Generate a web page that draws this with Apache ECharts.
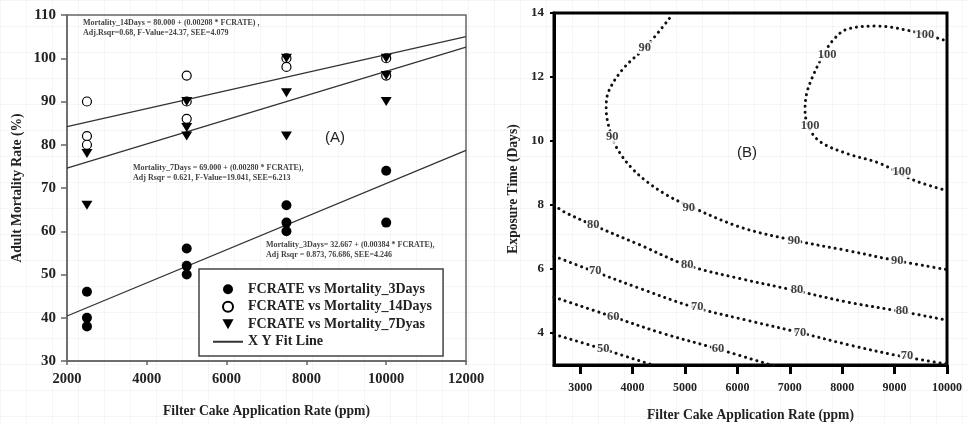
<!DOCTYPE html>
<html>
<head>
<meta charset="utf-8">
<script src="https://cdn.jsdelivr.net/npm/echarts@6/dist/echarts.min.js"></script>
<style>
    html, body { margin: 0; width: 100%; height: 100%; background: #fff; }
    body {
        background-image:
            linear-gradient(rgba(170, 215, 215, 0.18) 1px, transparent 1px),
            linear-gradient(90deg, rgba(170, 215, 215, 0.18) 1px, transparent 1px);
        background-size: 26px 26px;
    }
    #main { width: 968px; height: 424px; }
</style>
</head>
<body>
<div id="main"></div>
<script>
// ---- panel A: mortality vs filter cake rate ----
var mort3Days = [
    [2500, 46], [2500, 40], [2500, 38],
    [5000, 56], [5000, 52], [5000, 50],
    [7500, 66], [7500, 62], [7500, 60],
    [10000, 74], [10000, 62]
];
var mort14Days = [
    [2500, 90], [2500, 82], [2500, 80],
    [5000, 96], [5000, 90], [5000, 86],
    [7500, 100], [7500, 98],
    [10000, 100], [10000, 96]
];
var mort7Days = [
    [2500, 78], [2500, 66],
    [5000, 90], [5000, 84], [5000, 82],
    [7500, 100], [7500, 92], [7500, 82],
    [10000, 100], [10000, 96], [10000, 90]
];
// fit line end points
var fit3Days = [[2000, 40.4], [12000, 78.7]];
var fit14Days = [[2000, 84.2], [12000, 105.0]];
var fit7Days = [[2000, 74.6], [12000, 102.6]];

var eqText14 = 'Mortality_14Days = 80.000 + (0.00208 * FCRATE) ,\nAdj.Rsqr=0.68, F-Value=24.37, SEE=4.079';
var eqText7 = 'Mortality_7Days = 69.000 + (0.00280 * FCRATE),\nAdj Rsqr = 0.621, F-Value=19.041, SEE=6.213';
var eqText3 = 'Mortality_3Days= 32.667 + (0.00384 * FCRATE),\nAdj Rsqr = 0.873, 76.686, SEE=4.246';

// ---- panel B: contour lines (rate, days) ----
var contour100 = [[9929, 13.16], [9357, 13.42], [8659, 13.59], [8086, 13.49], [7831, 13.16], [7640, 12.69],
    [7449, 12.06], [7323, 11.49], [7291, 10.97], [7354, 10.45], [7577, 9.98], [8086, 9.61],
    [8721, 9.3], [9357, 8.78], [10000, 8.45]];
var contour90 = [[4703, 13.83], [4259, 12.95], [3826, 12.27], [3540, 11.54], [3496, 11.0], [3604, 10.13],
    [3763, 9.61], [3986, 9.15], [4272, 8.73], [4653, 8.31], [5035, 8.0], [6051, 7.31],
    [7062, 6.9], [8086, 6.58], [9007, 6.27], [10000, 5.98]];
var contour80 = [[2500, 8.0], [2700, 7.78], [3248, 7.37], [4144, 6.75], [5035, 6.12], [6051, 5.7],
    [7100, 5.33], [8086, 4.97], [9102, 4.68], [10000, 4.4]];
var contour70 = [[2500, 6.4], [3254, 5.93], [4144, 5.39], [5161, 4.81], [6179, 4.4], [7196, 4.01],
    [8149, 3.62], [9102, 3.28], [10000, 3.03]];
var contour60 = [[2500, 5.12], [3635, 4.5], [4589, 3.98], [5607, 3.51], [6700, 2.97]];
var contour50 = [[2500, 3.96], [3444, 3.49], [4420, 2.98]];
var contourLabels = [
    [4230, 12.92, 90], [3610, 10.12, 90], [5070, 7.92, 90], [7080, 6.88, 90], [9050, 6.26, 90],
    [7711, 12.69, 100], [7387, 10.47, 100], [9580, 13.31, 100], [9141, 9.05, 100],
    [3248, 7.37, 80], [5041, 6.12, 80], [7139, 5.34, 80], [9141, 4.69, 80],
    [3286, 5.93, 70], [5232, 4.81, 70], [7196, 4.02, 70], [9237, 3.3, 70],
    [3630, 4.52, 60], [5632, 3.52, 60],
    [3439, 3.5, 50]
];
var rateTicks = [3000, 4000, 5000, 6000, 7000, 8000, 9000, 10000];
var dayTicks = [4, 6, 8, 10, 12, 14];

var serif = 'Liberation Serif';
var nameStyle = { fontFamily: serif, fontWeight: 'bold', fontSize: 13.6, color: '#222' };
var triangleDown = 'path://M0,0L10,0L5,9Z';

function plain(v) { return String(v); }

function tickLabel(size, margin, extra) {
    return Object.assign({
        fontFamily: serif, fontWeight: 'bold', fontSize: size, color: '#222',
        margin: margin, formatter: plain
    }, extra || {});
}

function fitSeries(data) {
    return {
        name: 'X Y Fit Line', type: 'line', xAxisIndex: 0, yAxisIndex: 0,
        data: data, symbol: 'none', silent: true,
        itemStyle: { color: 'rgba(0,0,0,0)' },
        lineStyle: { color: '#333', width: 1.3 }, z: 1
    };
}

function contourSeries(data) {
    return {
        type: 'line', xAxisIndex: 1, yAxisIndex: 1, data: data,
        smooth: 0.35, symbol: 'none', silent: true, clip: true,
        lineStyle: { color: '#111', width: 3, type: [0.1, 5.8], cap: 'round' }
    };
}

function eqGraphic(left, top, text) {
    return {
        type: 'text', left: left, top: top,
        style: { text: text, font: 'bold 8px "Liberation Serif"', fill: '#444', lineHeight: 10 }
    };
}

var chart = echarts.init(document.getElementById('main'), null, { renderer: 'canvas' });
chart.setOption({
    backgroundColor: 'transparent',
    animation: false,
    grid: [
        {
            left: 67, top: 15, width: 399, height: 346, outerBoundsMode: 'none',
            show: true, borderColor: '#666', borderWidth: 1.5
        },
        {
            left: 554, top: 13, width: 393, height: 352, outerBoundsMode: 'none',
            show: true, borderColor: '#000', borderWidth: 3
        }
    ],
    xAxis: [
        {
            gridIndex: 0, type: 'value', min: 2000, max: 12000, interval: 2000,
            name: 'Filter Cake Application Rate (ppm)', nameLocation: 'middle', nameGap: 43,
            nameTextStyle: nameStyle,
            axisLine: { lineStyle: { color: '#666', width: 1.5 } },
            axisTick: { length: 4, lineStyle: { color: '#666', width: 1.5 } },
            axisLabel: tickLabel(14.5, 11),
            splitLine: { show: false }
        },
        {
            gridIndex: 1, type: 'value', min: 2500, max: 10000,
            name: 'Filter Cake Application Rate (ppm)', nameLocation: 'middle', nameGap: 43,
            nameTextStyle: nameStyle,
            axisLine: { lineStyle: { color: '#000', width: 3 } },
            axisTick: { customValues: rateTicks, length: 9, lineStyle: { color: '#000', width: 3 } },
            axisLabel: tickLabel(12, 17, { customValues: rateTicks }),
            splitLine: { show: false }
        }
    ],
    yAxis: [
        {
            gridIndex: 0, type: 'value', min: 30, max: 110, interval: 10,
            name: 'Adult Mortality Rate (%)', nameLocation: 'middle', nameGap: 43,
            nameTextStyle: nameStyle,
            axisLine: { lineStyle: { color: '#666', width: 1.5 } },
            axisTick: { length: 6, lineStyle: { color: '#666', width: 1.5 } },
            axisLabel: tickLabel(15, 11),
            splitLine: { show: false }
        },
        {
            gridIndex: 1, type: 'value', min: 3, max: 14,
            name: 'Exposure Time (Days)', nameLocation: 'middle', nameGap: 34,
            nameTextStyle: nameStyle,
            axisLine: { lineStyle: { color: '#000', width: 3 } },
            axisTick: { customValues: dayTicks, length: 4, lineStyle: { color: '#000', width: 2 } },
            axisLabel: tickLabel(13, 10, { customValues: dayTicks }),
            splitLine: { show: false }
        }
    ],
    legend: {
        orient: 'vertical', left: 199, top: 269,
        padding: [13, 11, 7, 13],
        itemWidth: 30, itemHeight: 10, itemGap: 3,
        backgroundColor: '#fff', borderColor: '#444', borderWidth: 1.5,
        textStyle: { fontFamily: serif, fontWeight: 'bold', fontSize: 14, color: '#222', lineHeight: 14.5 },
        data: ['FCRATE vs Mortality_3Days', 'FCRATE vs Mortality_14Days', 'FCRATE vs Mortality_7Dyas', 'X Y Fit Line']
    },
    graphic: [
        eqGraphic(83, 18, eqText14),
        eqGraphic(133, 163, eqText7),
        eqGraphic(266, 240, eqText3),
        { type: 'text', left: 325, top: 130, style: { text: '(A)', font: '15px "Liberation Sans"', fill: '#222' } },
        { type: 'text', left: 737, top: 145, style: { text: '(B)', font: '15px "Liberation Sans"', fill: '#222' } }
    ],
    series: [
        fitSeries(fit14Days),
        fitSeries(fit7Days),
        fitSeries(fit3Days),
        {
            name: 'FCRATE vs Mortality_3Days', type: 'scatter', xAxisIndex: 0, yAxisIndex: 0,
            data: mort3Days, symbol: 'circle', symbolSize: 10,
            itemStyle: { color: '#000', opacity: 1 }, z: 3
        },
        {
            name: 'FCRATE vs Mortality_14Days', type: 'scatter', xAxisIndex: 0, yAxisIndex: 0,
            data: mort14Days, symbol: 'circle', symbolSize: 9,
            itemStyle: { color: '#fff', borderColor: '#000', borderWidth: 1.2, opacity: 1 }, z: 3
        },
        {
            name: 'FCRATE vs Mortality_7Dyas', type: 'scatter', xAxisIndex: 0, yAxisIndex: 0,
            data: mort7Days, symbol: triangleDown, symbolSize: [11, 9],
            itemStyle: { color: '#000', opacity: 1 }, z: 4
        },
        contourSeries(contour100),
        contourSeries(contour90),
        contourSeries(contour80),
        contourSeries(contour70),
        contourSeries(contour60),
        contourSeries(contour50),
        {
            type: 'scatter', xAxisIndex: 1, yAxisIndex: 1, data: contourLabels,
            symbolSize: 1, itemStyle: { color: 'rgba(0,0,0,0)' }, silent: true, z: 5,
            label: {
                show: true, position: 'inside',
                formatter: function (p) { return p.value[2]; },
                fontFamily: serif, fontWeight: 'bold', fontSize: 12.5, color: '#111',
                backgroundColor: '#fff', padding: [0, 1]
            }
        }
    ]
});
</script>
</body>
</html>
